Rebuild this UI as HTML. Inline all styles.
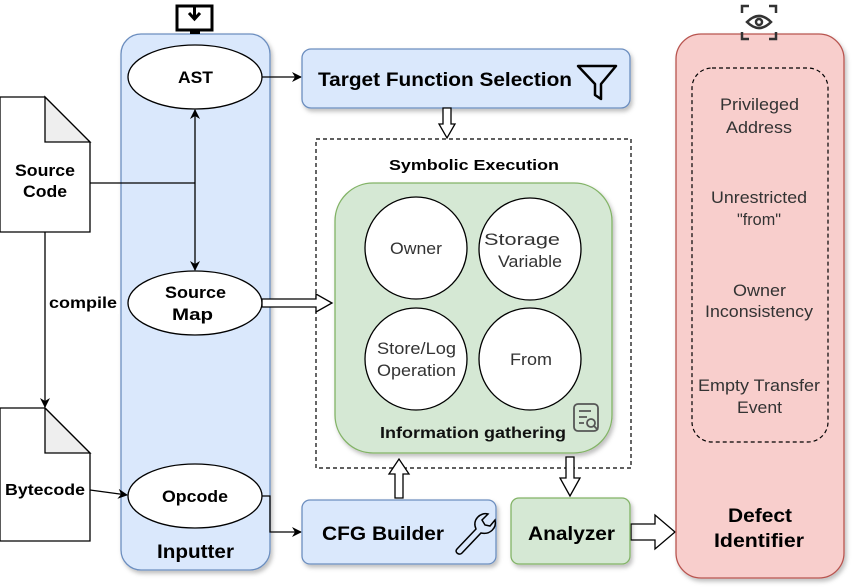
<!DOCTYPE html>
<html><head><meta charset="utf-8"><style>body{margin:0;background:#fff}svg{display:block}</style></head><body>
<svg width="855" height="587" viewBox="0 0 855 587" xmlns="http://www.w3.org/2000/svg" font-family="Liberation Sans, Arial, sans-serif">
<defs>
<marker id="a" markerWidth="10" markerHeight="10" refX="9" refY="5" orient="auto" markerUnits="userSpaceOnUse"><path d="M0,0 L10,5 L0,10 L3,5 z" fill="#000"/></marker>
<filter id="s" x="-10%" y="-10%" width="130%" height="130%"><feDropShadow dx="2" dy="3" stdDeviation="2" flood-opacity="0.25"/></filter>
</defs>
<rect x="121" y="34" width="149" height="536" rx="20" fill="#dae8fc" stroke="#6c8ebf" stroke-width="1.3" filter="url(#s)"/>
<text x="157" y="558" font-size="19" font-weight="bold" textLength="77" lengthAdjust="spacingAndGlyphs">Inputter</text>
<rect x="177" y="6" width="35" height="24" fill="#fff" stroke="#000" stroke-width="3"/>
<rect x="190" y="30" width="10" height="4" fill="#000"/>
<path d="M194.5,6 V17 M189,13 L194.5,19 L200,13" stroke="#000" stroke-width="3" fill="none"/>
<ellipse cx="195" cy="77" rx="67" ry="32" fill="#fff" stroke="#000" stroke-width="1.3"/>
<text x="178" y="83" font-size="17" font-weight="bold" textLength="35" lengthAdjust="spacingAndGlyphs">AST</text>
<ellipse cx="195" cy="303" rx="67" ry="32" fill="#fff" stroke="#000" stroke-width="1.3"/>
<text x="165" y="298" font-size="17" font-weight="bold" textLength="61" lengthAdjust="spacingAndGlyphs">Source</text>
<text x="172" y="320" font-size="17" font-weight="bold" textLength="41" lengthAdjust="spacingAndGlyphs">Map</text>
<ellipse cx="195" cy="496" rx="67" ry="32" fill="#fff" stroke="#000" stroke-width="1.3"/>
<text x="162" y="502" font-size="17" font-weight="bold" textLength="66" lengthAdjust="spacingAndGlyphs">Opcode</text>
<path d="M0,97 H45 L90,142 V232 H0 Z" fill="#fff" stroke="#000" stroke-width="1.3"/>
<path d="M45,97 V142 H90 Z" fill="#eee" stroke="#000" stroke-width="1.3"/>
<text x="15" y="176" font-size="17" font-weight="bold" textLength="60" lengthAdjust="spacingAndGlyphs">Source</text>
<text x="23" y="197" font-size="17" font-weight="bold" textLength="44" lengthAdjust="spacingAndGlyphs">Code</text>
<path d="M0,408 H45 L90,453 V541 H0 Z" fill="#fff" stroke="#000" stroke-width="1.3"/>
<path d="M45,408 V453 H90 Z" fill="#eee" stroke="#000" stroke-width="1.3"/>
<text x="5" y="495" font-size="16" font-weight="bold" textLength="80" lengthAdjust="spacingAndGlyphs">Bytecode</text>
<path d="M90,183 H195" stroke="#000" stroke-width="1.3" fill="none"/>
<path d="M195,183 V110" stroke="#000" stroke-width="1.3" marker-end="url(#a)"/>
<path d="M195,183 V270" stroke="#000" stroke-width="1.3" marker-end="url(#a)"/>
<path d="M45,232 V407" stroke="#000" stroke-width="1.3" marker-end="url(#a)"/>
<rect x="47" y="290" width="72" height="24" fill="#fff"/>
<text x="49" y="308" font-size="16" font-weight="bold" textLength="68" lengthAdjust="spacingAndGlyphs">compile</text>
<path d="M90,490 L127,495" stroke="#000" stroke-width="1.3" marker-end="url(#a)"/>
<path d="M262,496 H270 V532 H301" stroke="#000" stroke-width="1.3" fill="none" marker-end="url(#a)"/>
<path d="M262,77 H301" stroke="#000" stroke-width="1.3" marker-end="url(#a)"/>
<rect x="302" y="49" width="328" height="59" rx="9" fill="#dae8fc" stroke="#6c8ebf" stroke-width="1.3" filter="url(#s)"/>
<text x="318" y="86" font-size="19" font-weight="bold" textLength="254" lengthAdjust="spacingAndGlyphs">Target Function Selection</text>
<path d="M578,66 H616 L601,84 V99 L595,95 V84 Z" fill="none" stroke="#000" stroke-width="2.5" stroke-linejoin="round"/>
<rect x="316" y="139" width="315" height="329" fill="none" stroke="#000" stroke-width="1.2" stroke-dasharray="4,3"/>
<text x="389" y="170" font-size="15" font-weight="bold" textLength="170" lengthAdjust="spacingAndGlyphs">Symbolic Execution</text>
<rect x="335" y="183" width="277" height="270" rx="38" fill="#d5e8d4" stroke="#82b366" stroke-width="1.3" filter="url(#s)"/>
<g stroke="#000" stroke-width="1.3" fill="#fff">
<circle cx="416" cy="248" r="51"/><circle cx="530" cy="249" r="51"/>
<circle cx="416" cy="359" r="51"/><circle cx="530" cy="359" r="51"/>
</g>
<g font-size="17" fill="#333">
<text x="390" y="254" textLength="52" lengthAdjust="spacingAndGlyphs">Owner</text>
<text x="484" y="245" textLength="76" lengthAdjust="spacingAndGlyphs">Storage</text><text x="498" y="267" textLength="64" lengthAdjust="spacingAndGlyphs">Variable</text>
<text x="377" y="354" textLength="79" lengthAdjust="spacingAndGlyphs">Store/Log</text><text x="377" y="376" textLength="79" lengthAdjust="spacingAndGlyphs">Operation</text>
<text x="510" y="365" textLength="42" lengthAdjust="spacingAndGlyphs">From</text>
</g>
<text x="380" y="438" font-size="16" font-weight="bold" fill="#111" textLength="186" lengthAdjust="spacingAndGlyphs">Information gathering</text>
<g stroke="#555" stroke-width="1.8" fill="none"><rect x="574" y="404" width="24" height="27" rx="4"/><path d="M579,411 h12 M579,417 h8 M579,423 h5"/><circle cx="591" cy="423" r="4"/><path d="M594,426 l4,4"/></g>
<g fill="#fff" stroke="#000" stroke-width="1.3">
<path d="M443,108 V124 H439 L447,138 L455,124 H451 V108 Z"/>
<path d="M262,299 H316 V294 L332,303 L316,312 V307 H262 Z"/>
<path d="M395,498 V474 H389 L399,459 L409,474 H403 V498 Z"/>
<path d="M566,457 V478 H560 L570,496 L580,478 H574 V457 Z"/>
<path d="M631,524 H655 V515 L675,532 L655,549 V540 H631 Z"/>
</g>
<rect x="302" y="500" width="194" height="64" rx="8" fill="#dae8fc" stroke="#6c8ebf" stroke-width="1.3" filter="url(#s)"/>
<text x="322" y="540" font-size="19" font-weight="bold" textLength="122" lengthAdjust="spacingAndGlyphs">CFG Builder</text>
<path d="M457,549 L476,529 C472,520 480,512 488,514 L482,520 L485,525 L490,526 L495,520 C497,528 490,535 481,533 L462,553 C459,556 454,552 457,549 Z" fill="none" stroke="#000" stroke-width="1.5"/>
<rect x="511" y="498" width="119" height="66" rx="8" fill="#d5e8d4" stroke="#82b366" stroke-width="1.3" filter="url(#s)"/>
<text x="528" y="540" font-size="19" font-weight="bold" textLength="87" lengthAdjust="spacingAndGlyphs">Analyzer</text>
<rect x="676" y="34" width="168" height="544" rx="25" fill="#f8cecc" stroke="#b85450" stroke-width="1.3" filter="url(#s)"/>
<rect x="692" y="68" width="136" height="374" rx="20" fill="none" stroke="#000" stroke-width="1.2" stroke-dasharray="4,3"/>
<g font-size="17" fill="#333">
<text x="720" y="110" textLength="79" lengthAdjust="spacingAndGlyphs">Privileged</text><text x="726" y="133" textLength="66" lengthAdjust="spacingAndGlyphs">Address</text>
<text x="711" y="203" textLength="96" lengthAdjust="spacingAndGlyphs">Unrestricted</text><text x="737" y="225" textLength="44" lengthAdjust="spacingAndGlyphs">"from"</text>
<text x="733" y="296" textLength="53" lengthAdjust="spacingAndGlyphs">Owner</text><text x="705" y="317" textLength="108" lengthAdjust="spacingAndGlyphs">Inconsistency</text>
<text x="698" y="391" textLength="122" lengthAdjust="spacingAndGlyphs">Empty Transfer</text><text x="737" y="413" textLength="45" lengthAdjust="spacingAndGlyphs">Event</text>
</g>
<text x="728" y="522" font-size="19" font-weight="bold" textLength="64" lengthAdjust="spacingAndGlyphs">Defect</text>
<text x="714" y="547" font-size="19" font-weight="bold" textLength="90" lengthAdjust="spacingAndGlyphs">Identifier</text>
<g stroke="#333" stroke-width="2.5" fill="none">
<path d="M742,13 V6 H749 M769,6 H776 V13 M776,32 V39 H769 M749,39 H742 V32"/>
<path d="M747,22 Q759,10 771,22 Q759,34 747,22 Z"/>
<circle cx="759" cy="22" r="3"/>
</g>
</svg>
</body></html>
